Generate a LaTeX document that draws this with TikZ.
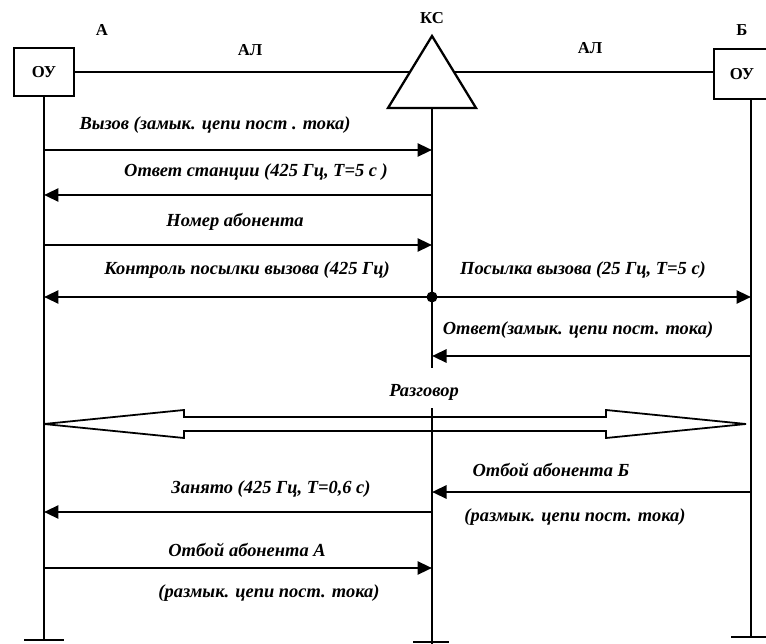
\documentclass[tikz,border=0pt]{standalone}
\usepackage{fontspec}
\setmainfont{Liberation Serif}
\usetikzlibrary{arrows.meta}
\tikzset{
    unit/.style={draw, line width=1pt, minimum width=1.2cm, minimum height=0.96cm, inner sep=0pt, font=\bfseries\fontsize{9.5}{11}\selectfont},
    lifeline/.style={line width=1.3pt},
    msg/.style={line width=1.5pt, -{Triangle[length=0.29cm, width=0.26cm]}},
    lbl/.style={font=\bfseries\itshape\fontsize{10.5}{12}\selectfont, inner sep=0pt},
    tag/.style={font=\bfseries\fontsize{9.5}{11}\selectfont, inner sep=0pt},
    dot/.style={circle, fill, inner sep=0pt, minimum size=0.22cm},
    talk/.style={line width=1pt, line join=miter}
}

\begin{document}
\begin{tikzpicture}[x=0.02cm, y=-0.02cm]
    \clip (0,0) rectangle (766,644);
    % terminals and line
    \node[unit] (oua) at (44,72) {ОУ};
    \node[unit, minimum width=1.12cm, minimum height=1cm] (oub) at (742,74) {ОУ};
    \draw[lifeline] (oua.east) -- (oua.east -| oub.west);
    \draw[lifeline, fill=white] (388,108) -- (432,36) -- (476,108) -- cycle;
    \coordinate (ks) at (432,108);
    \node[tag] (na) at (102,30) {А};
    \node[tag] (nb) at (742,30) {Б};
    \node[tag] (nks) at (432,18) {КС};
    \node[tag] (al1) at (250,50) {АЛ};
    \node[tag] (al2) at (590,48) {АЛ};
    % lifelines
    \coordinate (aend) at (44,640);
    \coordinate (kgap) at (432,368);
    \coordinate (kresume) at (432,408);
    \coordinate (kend) at (432,644);
    \coordinate (bend) at (751,637);
    \draw[lifeline] (oua.south) -- (aend) ++(-20,0) -- ++(40,0);
    \draw[lifeline] (ks) -- (kgap) (kresume) -- (kend) ++(-19,-2) -- ++(36,0);
    \draw[lifeline] (bend |- oub.south) -- (bend) ++(-20,0) -- ++(40,0);
    \foreach \i/\y in {1/150,2/195,3/245,4/297,5/356,7/492,8/512,9/568} {
        \coordinate (a\i) at (44,\y);
        \coordinate (k\i) at (432,\y);
        \coordinate (b\i) at (751,\y);
    }
    % messages
    \draw[msg] (a1) -- (k1);
    \draw[msg] (k2) -- (a2);
    \draw[msg] (a3) -- (k3);
    \draw[msg] (k4) -- (a4);
    \draw[msg] (k4) -- (b4);
    \node[dot] (split) at (k4) {};
    \draw[msg] (b5) -- (k5);
    \draw[msg] (b7) -- (k7);
    \draw[msg] (k8) -- (a8);
    \draw[msg] (a9) -- (k9);
    % conversation
    \draw[talk] (44,424) -- (184,410) -- (184,417) -- (606,417) -- (606,410) -- (746,424)
        -- (606,438) -- (606,431) -- (184,431) -- (184,438) -- cycle;
    % labels
    \node[lbl] (m1) at (215,125) {Вызов (замык. цепи пост . тока)};
    \node[lbl] (m2) at (256,172) {Ответ станции (425 Гц, Т=5 с )};
    \node[lbl] (m3) at (235,222) {Номер абонента};
    \node[lbl] (m4) at (247,270) {Контроль посылки вызова (425 Гц)};
    \node[lbl] (m5) at (583,270) {Посылка вызова (25 Гц, Т=5 с)};
    \node[lbl] (m6) at (578,330) {Ответ(замык. цепи пост. тока)};
    \node[lbl] (m7) at (424,392) {Разговор};
    \node[lbl] (m8) at (551,470) {Отбой абонента Б};
    \node[lbl] (m9) at (575,517) {(размык. цепи пост. тока)};
    \node[lbl] (m10) at (271,489) {Занято (425 Гц, Т=0,6 с)};
    \node[lbl] (m11) at (247,550) {Отбой абонента А};
    \node[lbl] (m12) at (269,593) {(размык. цепи пост. тока)};
\end{tikzpicture}
\end{document}
